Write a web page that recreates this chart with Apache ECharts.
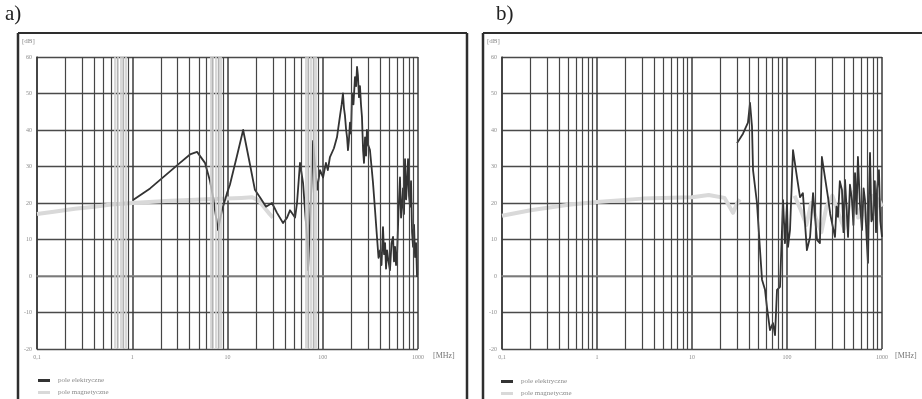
<!DOCTYPE html>
<html>
<head>
<meta charset="utf-8">
<script src="https://cdn.jsdelivr.net/npm/echarts@6/dist/echarts.min.js"></script>
<style>
  html, body { margin: 0; padding: 0; background: #fff; }
  #chart { width: 922px; height: 399px; }
</style>
</head>
<body>
<div id="chart"></div>
<script>
// Frequency axis (MHz, log scale) and level axis (dB)
const freqTicks = [0.1, 1, 10, 100, 1000];
const freqTickLabels = ['0,1', '1', '10', '100', '1000'];
const levelMin = -20, levelMax = 60, levelStep = 10;

// Grid multipliers inside each decade
const decades = [0.1, 1, 10, 100];
const multipliers = [2, 3, 4, 5, 6, 7, 8, 9];
// Faded bands of grid lines on the left panel
const fadedLinesA = [0.66, 0.7, 0.75, 0.8, 0.85, 6.6, 7, 7.5, 8, 8.5, 66, 70, 75, 80, 85];

const seriesNames = ['pole elektryczne', 'pole magnetyczne'];

// Panel a) — electric field [MHz, dB]
const aElectric = [
  [1.02, 20.8], [1.54, 24], [2.21, 27.5], [3.17, 31], [4.04, 33.3], [4.79, 34], [5.8, 31],
  [6.55, 26], [7.05, 21.6], [7.95, 12.6], [8.75, 18], [9.88, 22.7], [10.6, 25], [12.6, 33],
  [14.6, 40], [16.8, 32], [19.4, 23.6], [21.9, 21.6], [25.4, 19], [29.3, 20], [33.1, 17.3],
  [38.3, 14.5], [42.2, 16], [45.3, 18], [51.2, 16], [53.7, 20], [57.7, 31], [62.1, 25.5],
  [65.1, 18], [68.4, 10.7], [70, 1.6], [73.5, 14.5], [79.1, 37], [87.1, 23.6], [93.6, 29],
  [100.7, 27], [108, 31], [113, 29], [119, 32.6], [131, 35], [141, 38], [152, 44], [158, 47],
  [163, 50], [167, 46], [171, 44], [176, 40], [180, 38], [184, 34.5], [188, 37], [193, 42],
  [198, 39], [203, 50], [210, 47], [218, 54.5], [224, 52], [229, 57.3], [234, 55], [240, 49],
  [246, 52], [252, 47], [258, 43.6], [265, 34.5], [271, 31], [278, 38], [285, 33], [291, 40],
  [299, 36], [313, 34.5], [325, 30], [337, 25.5], [354, 18], [371, 10.7], [385, 5], [399, 7],
  [414, 3], [429, 13.4], [440, 6], [451, 9], [462, 2], [473, 7], [490, 4], [508, 1.6],
  [527, 9], [547, 10.7], [560, 4], [574, 8], [588, 3], [602, 5.2], [625, 18], [647, 27],
  [664, 16], [680, 19], [696, 24], [713, 17], [731, 32], [750, 21], [767, 25.5], [786, 32],
  [805, 22], [825, 19], [845, 26], [866, 12], [887, 8], [909, 14], [931, 5.2], [955, 9],
  [977, -0.3]
];

// Panel a) — magnetic field [MHz, dB]
const aMagnetic = [
  [0.1, 17], [0.15, 17.6], [0.25, 18.4], [0.4, 19], [0.6, 19.6], [1, 20], [1.5, 20.3],
  [2.5, 20.6], [4, 20.8], [6, 21], [10, 21.2], [14, 21.4], [18, 21.6], [21, 20.8],
  [24, 19], [27, 17.3], [30, 16]
];

// Panel b) — electric field [MHz, dB]
const bElectric = [
  [29.8, 36.4], [34.4, 39], [38.8, 42], [40.8, 47.4], [42.8, 41], [43.9, 29], [48.3, 20],
  [52, 7.1], [54.6, -1], [58.7, -3.8], [61.5, -8.5], [66.2, -14.8], [71.2, -12.9],
  [74.8, -16.2], [78.5, -3.8], [84.4, -3], [90.8, 20.8], [95.2, 9], [100, 20], [102.5, 8],
  [107.6, 12.6], [115.7, 34.5], [127.4, 27], [137, 21.6], [147, 22.7], [162, 7.1],
  [175, 10.7], [188, 22.7], [207, 9.9], [222, 9], [233, 32.6], [251, 27], [270, 21.6],
  [285, 17], [298, 14.5], [320, 10.7], [332, 19], [344, 16.2], [360, 26], [379, 23.6],
  [393, 12], [408, 26.3], [425, 18], [439, 10.7], [460, 25], [483, 20.8], [500, 14],
  [520, 28.2], [540, 17], [558, 32.6], [585, 20], [616, 12.6], [640, 24], [662, 20.8],
  [690, 10], [712, 3.6], [730, 22], [748, 33.7], [775, 15], [804, 16.2], [840, 26],
  [865, 12], [886, 23.6], [929, 29], [960, 15], [1000, 10.7]
];

// Panel b) — magnetic field [MHz, dB]; '-' leaves a gap in the trace
const bMagnetic = [
  [0.1, 16.5], [0.2, 18], [0.5, 19.5], [1, 20.3], [3, 21.2], [10, 21.6], [15, 22.2],
  [22, 21.4], [27, 17.3], [30, 20], [32, 21], [33, '-'],
  [120, 22], [140, 18], [160, 14], [180, 20], [200, 16], [230, 12], [260, 19], [300, 22],
  [350, 17], [400, 13], [450, 19], [500, 23], [560, 16], [620, 20], [700, 14], [780, 22],
  [850, 17], [920, 21], [1000, 19]
];

const serif = '"Liberation Serif", "DejaVu Serif", serif';
const minorFreqs = [];
decades.forEach(d => multipliers.forEach(m => minorFreqs.push(+(d * m).toPrecision(3))));

function xAxisFor(gridIndex) {
  return {
    type: 'log', logBase: 10, gridIndex, min: 0.1, max: 1000,
    axisLine: { show: true, lineStyle: { color: '#8a8a8a', width: 1.5 } },
    axisTick: { show: false },
    splitLine: { show: true, lineStyle: { color: '#3a3a3a', width: 1.5 } },
    axisLabel: {
      fontSize: 6, color: '#8c8c8c', fontFamily: serif, margin: 5,
      formatter: v => {
        const i = freqTicks.findIndex(t => Math.abs(Math.log10(t) - Math.log10(v)) < 1e-6);
        return i >= 0 ? freqTickLabels[i] : '';
      }
    }
  };
}
function yAxisFor(gridIndex) {
  return {
    type: 'value', gridIndex, min: levelMin, max: levelMax, interval: levelStep,
    axisLine: { show: true, lineStyle: { color: '#3a3a3a', width: 1.5 } },
    axisTick: { show: false },
    splitLine: { show: true, lineStyle: { color: '#4a4a4a', width: 1.3 } },
    axisLabel: { fontSize: 6, color: '#8c8c8c', fontFamily: serif, margin: 5 }
  };
}
function gridLines(idx, freqs, color, width, z) {
  return {
    type: 'line', xAxisIndex: idx, yAxisIndex: idx, data: [], z, silent: true,
    markLine: {
      silent: true, symbol: ['none', 'none'], animation: false,
      label: { show: false },
      lineStyle: { color, width, type: 'solid' },
      data: freqs.map(f => ({ xAxis: f }))
    }
  };
}
function trace(idx, name, data, color, width, z) {
  return {
    type: 'line', name, xAxisIndex: idx, yAxisIndex: idx, data, z,
    showSymbol: false, symbol: 'none', connectNulls: false, animation: false,
    color, lineStyle: { color, width, join: 'round' }
  };
}
// One legend entry per component so the two rows stack under each panel
function legendItem(name, left, top) {
  return {
    data: [name], left, top, icon: 'rect',
    itemWidth: 12, itemHeight: 3, selectedMode: false, padding: 0,
    textStyle: { fontSize: 7, color: '#8a8a8a', fontFamily: serif, padding: [0, 0, 0, 3] }
  };
}
function label(text, x, y, size, color) {
  return { type: 'text', left: x, top: y, style: { text, font: size + 'px ' + serif, fill: color } };
}
function edge(x1, y1, x2, y2, w) {
  return { type: 'line', shape: { x1, y1, x2, y2 }, style: { stroke: '#2e2e2e', lineWidth: w } };
}

const chart = echarts.init(document.getElementById('chart'), null, { renderer: 'canvas' });
chart.setOption({
  backgroundColor: '#ffffff',
  animation: false,
  grid: [
    { left: 37, top: 57, width: 381, height: 292 },
    { left: 502, top: 57, width: 380, height: 292 }
  ],
  xAxis: [xAxisFor(0), xAxisFor(1)],
  yAxis: [yAxisFor(0), yAxisFor(1)],
  legend: [
    legendItem(seriesNames[0], 38, 377),
    legendItem(seriesNames[1], 38, 389),
    legendItem(seriesNames[0], 501, 378),
    legendItem(seriesNames[1], 501, 390)
  ],
  series: [
    gridLines(0, minorFreqs, '#454545', 1.2, 1),
    gridLines(0, fadedLinesA, '#cfcfcf', 1.6, 2),
    gridLines(1, minorFreqs, '#454545', 1.2, 1),
    trace(0, seriesNames[1], aMagnetic, '#d9d9d9', 4, 3),
    trace(0, seriesNames[0], aElectric, '#333333', 1.8, 4),
    trace(1, seriesNames[1], bMagnetic, '#d9d9d9', 4, 3),
    trace(1, seriesNames[0], bElectric, '#333333', 1.8, 4)
  ],
  graphic: [
    label('a)', 5, 4, 21, '#222'),
    label('b)', 496, 4, 21, '#222'),
    label('[dB]', 22, 38, 7, '#8a8a8a'),
    label('[dB]', 487, 38, 7, '#8a8a8a'),
    label('[MHz]', 433, 352, 8, '#777'),
    label('[MHz]', 895, 352, 8, '#777'),
    edge(18, 33, 467, 33, 2),
    edge(18, 33, 18, 399, 2.5),
    edge(467, 33, 467, 399, 2.5),
    edge(483, 33, 922, 33, 2),
    edge(483, 33, 483, 399, 2.5)
  ]
});
</script>
</body>
</html>
